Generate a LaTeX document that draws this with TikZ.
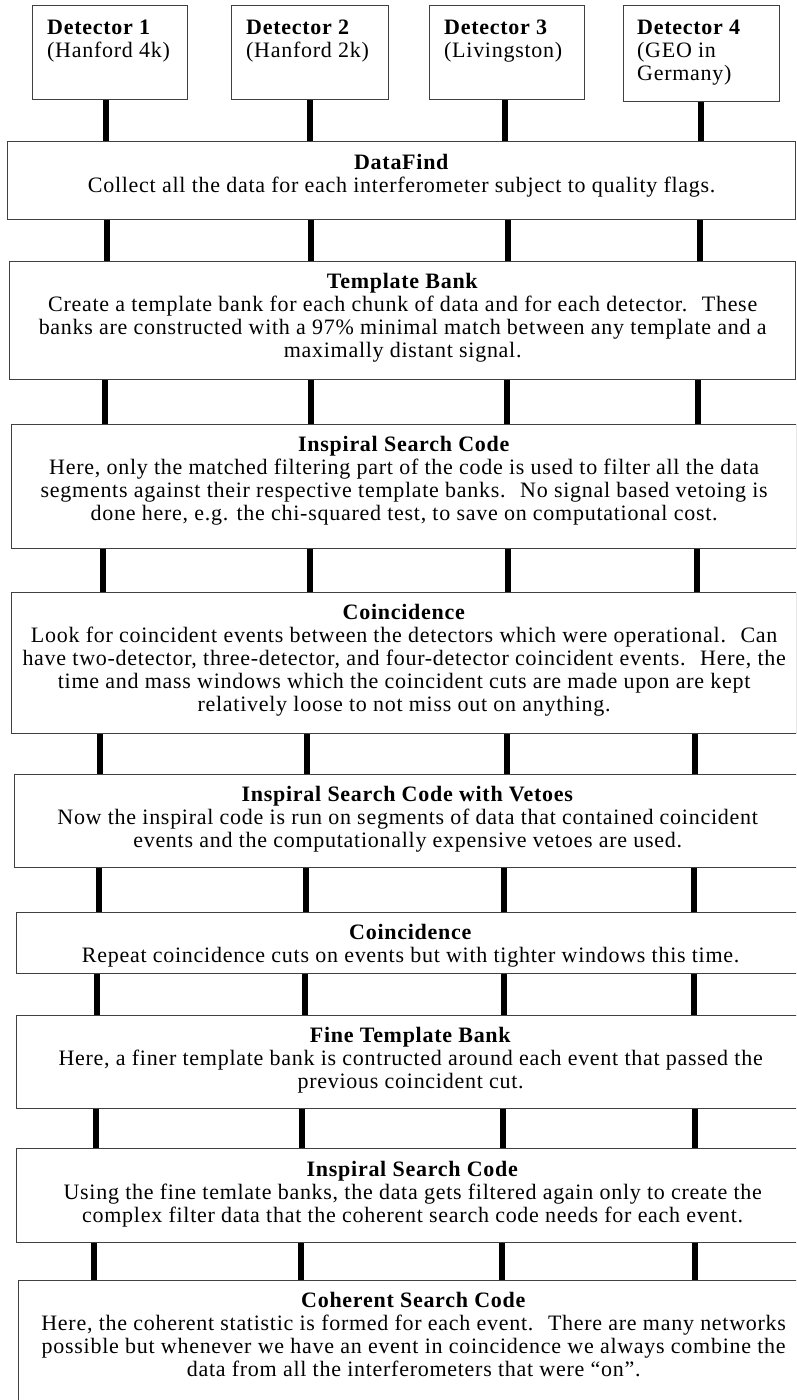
\documentclass[tikz,border=0pt]{standalone}
\usepackage{fontspec}
\setmainfont[LetterSpace=3.3]{Liberation Serif}
\definecolor{boxgray}{gray}{0.25}
\begin{document}
\begin{tikzpicture}[x=1pt,y=-1pt,
  box/.style={draw=boxgray, line width=1.3pt, fill=white, inner sep=0pt, anchor=north west},
  txt/.style={align=center, inner sep=0pt, anchor=north, font=\fontsize{22}{23}\selectfont},
  dtxt/.style={align=left, inner sep=0pt, anchor=north west, font=\fontsize{22}{23}\selectfont},
  link/.style={line width=6pt, black}]
\useasboundingbox (0,0) rectangle (796,1400);
\clip (0,0) rectangle (796,1400);
% detectors
\node[box, minimum width=155pt, minimum height=94pt] (d1) at (32,5) {};
\node[box, minimum width=157pt, minimum height=94pt] (d2) at (231,5) {};
\node[box, minimum width=155pt, minimum height=94pt] (d3) at (429,5) {};
\node[box, minimum width=156pt, minimum height=96pt] (d4) at (623,5) {};
\node[dtxt] (d1t) at ([xshift=15pt,yshift=-15pt]d1.north west) {\textbf{Detector 1}\\(Hanford 4k)};
\node[dtxt] (d2t) at ([xshift=15pt,yshift=-15pt]d2.north west) {\textbf{Detector 2}\\(Hanford 2k)};
\node[dtxt] (d3t) at ([xshift=15pt,yshift=-15pt]d3.north west) {\textbf{Detector 3}\\(Livingston)};
\node[dtxt] (d4t) at ([xshift=14pt,yshift=-15pt]d4.north west) {\textbf{Detector 4}\\(GEO in\\Germany)};
% stage boxes
\node[box, minimum width=788pt, minimum height=78pt] (b1) at (7,141) {};
\node[box, minimum width=786pt, minimum height=118pt] (b2) at (9,261) {};
\node[box, minimum width=785pt, minimum height=124pt] (b3) at (11,424) {};
\node[box, minimum width=785pt, minimum height=141pt] (b4) at (11,592) {};
\node[box, minimum width=786pt, minimum height=93pt] (b5) at (14,774) {};
\node[box, minimum width=788pt, minimum height=61pt] (b6) at (16,912) {};
\node[box, minimum width=788pt, minimum height=93pt] (b7) at (16,1015) {};
\node[box, minimum width=792pt, minimum height=94pt] (b8) at (16,1148) {};
\node[box, minimum width=790pt, minimum height=130pt] (b9) at (18,1280) {};
% texts
\node[txt] (b1t) at ([yshift=-13pt]b1.north) {\textbf{DataFind}\\Collect all the data for each interferometer subject to quality flags.};
\node[txt] (b2t) at ([yshift=-12pt]b2.north) {\textbf{Template Bank}\\Create a template bank for each chunk of data and for each detector.~ These\\banks are constructed with a 97\% minimal match between any template and a\\maximally distant signal.};
\node[txt] (b3t) at ([yshift=-12pt]b3.north) {\textbf{Inspiral Search Code}\\Here, only the matched filtering part of the code is used to filter all the data\\segments against their respective template banks.~ No signal based vetoing is\\done here, e.g. the chi-squared test, to save on computational cost.};
\node[txt] (b4t) at ([yshift=-12pt]b4.north) {\textbf{Coincidence}\\Look for coincident events between the detectors which were operational.~ Can\\have two-detector, three-detector, and four-detector coincident events.~ Here, the\\time and mass windows which the coincident cuts are made upon are kept\\relatively loose to not miss out on anything.};
\node[txt] (b5t) at ([yshift=-12pt]b5.north) {\textbf{Inspiral Search Code with Vetoes}\\Now the inspiral code is run on segments of data that contained coincident\\events and the computationally expensive vetoes are used.};
\node[txt] (b6t) at ([yshift=-12pt]b6.north) {\textbf{Coincidence}\\Repeat coincidence cuts on events but with tighter windows this time.};
\node[txt] (b7t) at ([yshift=-12pt]b7.north) {\textbf{Fine Template Bank}\\Here, a finer template bank is contructed around each event that passed the\\previous coincident cut.};
\node[txt] (b8t) at ([yshift=-13pt]b8.north) {\textbf{Inspiral Search Code}\\Using the fine temlate banks, the data gets filtered again only to create the\\complex filter data that the coherent search code needs for each event.};
\node[txt] (b9t) at ([yshift=-12pt]b9.north) {\textbf{Coherent Search Code}\\Here, the coherent statistic is formed for each event.~ There are many networks\\possible but whenever we have an event in coincidence we always combine the\\data from all the interferometers that were “on”.};
% connectors
\draw[link] (d1.south -| 106,0) -- (b1.north -| 106,0);
\draw[link] (d2.south -| 310,0) -- (b1.north -| 310,0);
\draw[link] (d3.south -| 505,0) -- (b1.north -| 505,0);
\draw[link] (d4.south -| 701,0) -- (b1.north -| 701,0);
\foreach \u/\v/\a/\b/\c/\d in {b1/b2/107/311/508/700, b2/b3/105/311/507/698, b3/b4/103/310/508/697, b4/b5/100/307/507/695, b5/b6/99/306/504/694, b6/b7/97/305/504/694, b7/b8/96/302/503/695, b8/b9/94/301/502/695}{
  \draw[link] (\u.south -| \a,0) -- (\v.north -| \a,0);
  \draw[link] (\u.south -| \b,0) -- (\v.north -| \b,0);
  \draw[link] (\u.south -| \c,0) -- (\v.north -| \c,0);
  \draw[link] (\u.south -| \d,0) -- (\v.north -| \d,0);
}
\end{tikzpicture}
\end{document}
